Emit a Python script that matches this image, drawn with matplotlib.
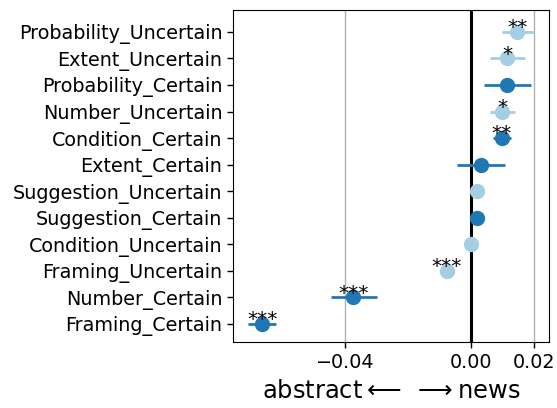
import numpy as np
import matplotlib
matplotlib.use('Agg')
import matplotlib.pyplot as plt

# de arriba hacia abajo, como en la figura
labels = ['Probability_Uncertain', 'Extent_Uncertain', 'Probability_Certain',
          'Number_Uncertain', 'Condition_Certain', 'Extent_Certain',
          'Suggestion_Uncertain', 'Suggestion_Certain', 'Condition_Uncertain',
          'Framing_Uncertain', 'Number_Certain', 'Framing_Certain']
coef = [0.0148, 0.0115, 0.0115, 0.0100, 0.0099, 0.0032,
        0.0021, 0.0021, -0.0001, -0.0077, -0.0374, -0.0663]
lo = [0.0100, 0.0061, 0.0042, 0.0061, 0.0069, -0.0043,
      0.0019, 0.0017, -0.0003, -0.0080, -0.0445, -0.0708]
hi = [0.0201, 0.0171, 0.0190, 0.0139, 0.0127, 0.0107,
      0.0023, 0.0025, 0.0001, -0.0074, -0.0299, -0.0620]
stars = ['**', '*', '', '*', '**', '', '', '', '', '***', '***', '***']
certain = [l.endswith('_Certain') for l in labels]

c_light = '#a6cee3'
c_dark = '#1f78b4'

fig = plt.figure(figsize=(5.57, 4.08), dpi=100)
ax = fig.add_axes([0.418, 0.161, 0.568, 0.815])

n = len(labels)
ys = np.arange(n)[::-1]
ax.axvline(0, color='black', lw=2.2, zorder=1)
for i in range(n):
    col = c_dark if certain[i] else c_light
    ax.errorbar(coef[i], ys[i], xerr=[[coef[i] - lo[i]], [hi[i] - coef[i]]],
                fmt='o', color=col, ms=10, elinewidth=2, capsize=0, zorder=3)
    if stars[i]:
        ax.annotate(stars[i], (coef[i], ys[i]), xytext=(0, -1), textcoords='offset points',
                    ha='center', va='baseline', fontsize=14.5, zorder=4)

ax.set_yticks(ys)
ax.set_yticklabels(labels, fontsize=13.8)
ax.set_xticks([-0.04, 0.0, 0.02])
ax.set_xticklabels(['\u22120.04', '0.00', '0.02'], fontsize=13.8)
ax.tick_params(length=4, width=1)
ax.set_xlim(-0.0756, 0.0249)
ax.set_ylim(-0.69, n - 1 + 0.83)
ax.grid(axis='x', color='#b0b0b0', lw=1)
ax.set_axisbelow(True)
ax.set_xlabel(r'abstract$\longleftarrow$ $\longrightarrow$news', fontsize=17.4, labelpad=5)

plt.savefig('out.png', dpi=100)
